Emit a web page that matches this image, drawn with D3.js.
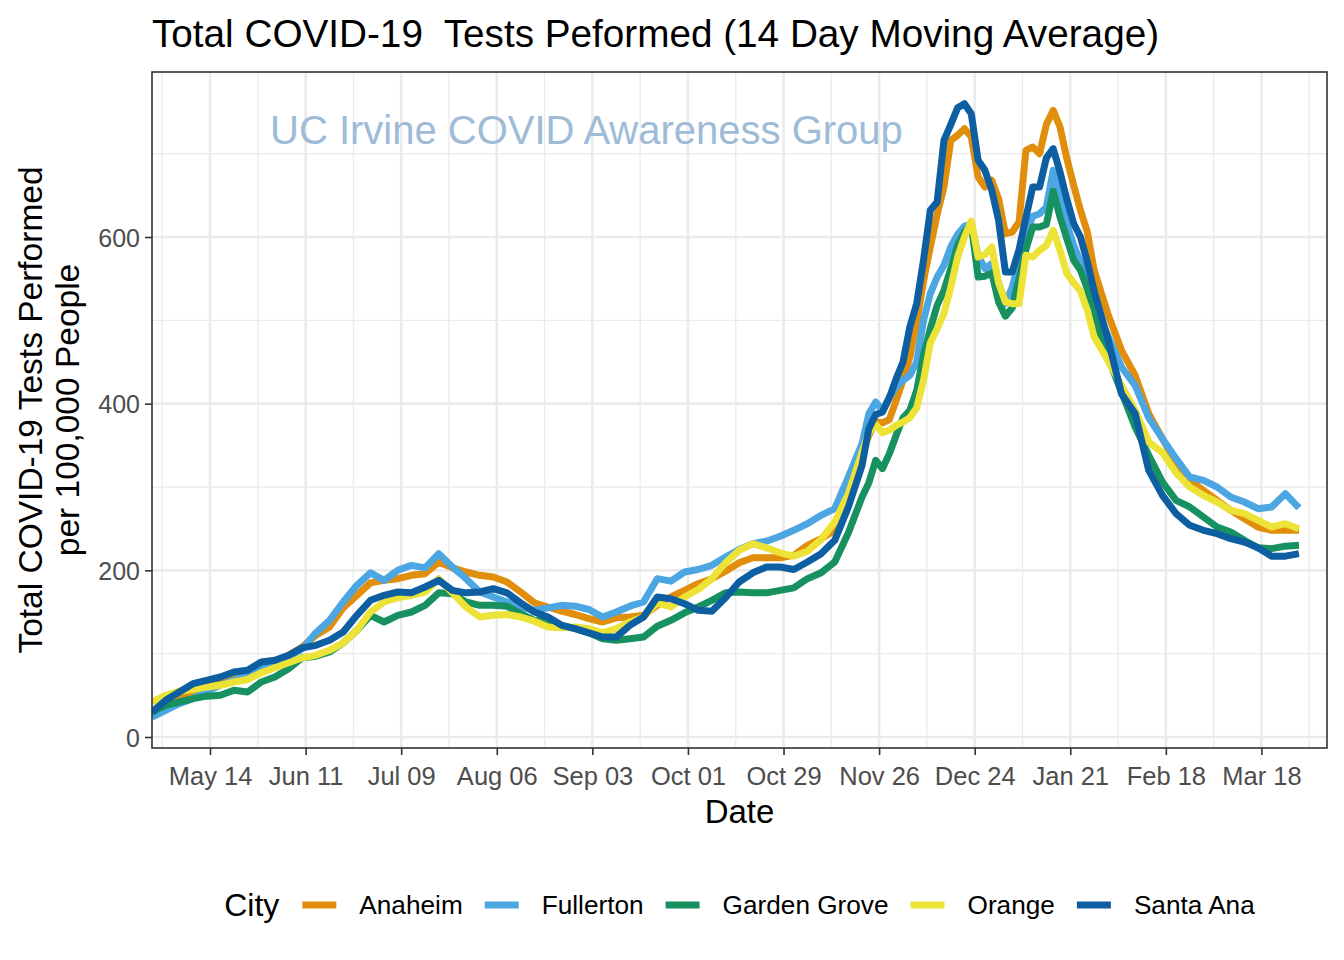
<!DOCTYPE html>
<html>
<head>
<meta charset="utf-8">
<script src="https://cdn.jsdelivr.net/npm/d3@7"></script>
<style>
  html, body { margin: 0; padding: 0; background: #fff; }
  svg { display: block; }
  text { font-family: "Liberation Sans", Arial, Helvetica, sans-serif; }
</style>
</head>
<body>
<svg id="chart" width="1344" height="960"></svg>
<script>
// ---------------- DATA ----------------
const dates = [
  "2020-04-27","2020-05-01","2020-05-05","2020-05-09","2020-05-13","2020-05-17","2020-05-21","2020-05-25","2020-05-29","2020-06-02",
  "2020-06-06","2020-06-10","2020-06-14","2020-06-18","2020-06-22","2020-06-26","2020-06-30","2020-07-04","2020-07-08","2020-07-12",
  "2020-07-16","2020-07-20","2020-07-24","2020-07-28","2020-08-01","2020-08-05","2020-08-09","2020-08-13","2020-08-17","2020-08-21",
  "2020-08-25","2020-08-29","2020-09-02","2020-09-06","2020-09-10","2020-09-14","2020-09-18","2020-09-22","2020-09-26","2020-09-30",
  "2020-10-04","2020-10-08","2020-10-12","2020-10-16","2020-10-20","2020-10-24","2020-10-28","2020-11-01","2020-11-05","2020-11-09",
  "2020-11-13","2020-11-17","2020-11-21",
  "2020-11-23","2020-11-25","2020-11-27","2020-11-29","2020-12-01","2020-12-03","2020-12-05","2020-12-07","2020-12-09","2020-12-11",
  "2020-12-13","2020-12-15","2020-12-17","2020-12-19","2020-12-21","2020-12-23","2020-12-25","2020-12-27","2020-12-29","2020-12-31",
  "2021-01-02","2021-01-04","2021-01-06","2021-01-08","2021-01-10","2021-01-12","2021-01-14","2021-01-16","2021-01-18","2021-01-20",
  "2021-01-22","2021-01-24","2021-01-26","2021-01-28",
  "2021-02-01","2021-02-05","2021-02-09","2021-02-13","2021-02-17","2021-02-21","2021-02-25","2021-03-01","2021-03-05","2021-03-09",
  "2021-03-13","2021-03-17","2021-03-21","2021-03-25","2021-03-29"
];

const cities = ["Anaheim", "Fullerton", "Garden Grove", "Orange", "Santa Ana"];

const anaheim = [
  30,40,48,55,60,65,70,76,84,90,98,108,122,132,155,170,185,188,190,
  194,196,210,203,198,194,192,186,174,161,156,151,147,142,138,143,144,146,158,
  168,176,184,190,199,209,215,215,215,218,230,238,248,292,342,
  362,378,377,381,404,428,456,497,547,588,627,660,716,722,730,720,672,660,668,646,
  604,606,618,704,708,700,735,752,732,694,662,632,606,560,
  508,464,434,388,358,328,308,296,284,272,262,252,248,248,248
];
const fullerton = [
  24,32,40,46,55,62,68,74,82,88,96,106,125,140,162,182,197,188,200,
  206,203,220,204,190,174,168,162,156,152,155,158,157,153,144,150,157,162,190,
  187,198,201,206,216,225,232,235,241,248,256,266,274,312,352,
  388,402,392,408,420,428,434,450,500,532,552,566,588,603,613,615,578,562,568,545,
  520,540,570,603,625,628,636,680,648,615,590,570,545,516,
  482,444,422,383,358,334,312,308,300,288,282,274,276,292,275
];
const gardenGrove = [
  30,38,42,46,49,50,56,54,66,72,82,95,97,102,113,128,146,138,146,
  150,158,173,172,162,158,158,157,148,140,139,134,130,125,118,116,118,120,133,
  140,149,156,164,173,174,173,173,176,179,190,197,210,245,288,
  305,332,322,340,362,383,392,416,458,490,518,536,562,590,606,615,552,553,557,522,
  505,515,550,585,612,612,615,655,624,598,572,560,538,504,
  456,414,372,338,306,284,276,264,252,246,236,227,226,229,230
];
const orange = [
  42,50,55,57,60,62,66,69,77,83,89,95,98,104,113,128,150,162,167,
  170,174,190,173,156,144,146,147,144,139,132,131,132,130,125,130,138,144,161,
  156,168,177,190,209,224,232,227,221,217,223,237,258,292,342,
  365,375,365,368,374,378,383,395,428,473,490,508,540,576,600,619,576,579,588,545,
  522,520,520,578,576,584,590,608,584,556,545,535,512,480,
  452,422,392,354,341,317,300,290,282,272,268,260,252,256,250
];
const santaAna = [
  30,44,54,64,68,72,78,80,90,92,98,107,110,116,126,146,164,170,174,
  173,180,188,176,173,174,178,173,161,150,144,134,130,125,120,120,134,144,168,
  166,160,152,151,167,186,197,204,204,201,210,220,236,276,326,
  370,387,390,407,430,450,492,520,572,632,642,716,735,755,760,748,692,680,656,620,
  558,558,585,623,660,660,695,706,678,645,616,600,570,535,
  478,412,388,320,290,268,254,248,244,238,234,227,217,217,220
];

const seriesValues = [anaheim, fullerton, gardenGrove, orange, santaAna];
const colors = ["#E08E0B", "#4BA6E2", "#16915F", "#EDE236", "#0D5FA2"];

const xTickLabels = ["May 14","Jun 11","Jul 09","Aug 06","Sep 03","Oct 01","Oct 29","Nov 26","Dec 24","Jan 21","Feb 18","Mar 18"];
const xTickDates = ["2020-05-14","2020-06-11","2020-07-09","2020-08-06","2020-09-03","2020-10-01","2020-10-29","2020-11-26","2020-12-24","2021-01-21","2021-02-18","2021-03-18"];
const xMinorDates = ["2020-04-30","2020-05-28","2020-06-25","2020-07-23","2020-08-20","2020-09-17","2020-10-15","2020-11-12","2020-12-10","2021-01-07","2021-02-04","2021-03-04","2021-04-01"];
const yTicks = [0, 200, 400, 600];
const yMinor = [100, 300, 500, 700];

const titleText = "Total COVID-19  Tests Peformed (14 Day Moving Average)";
const watermark = "UC Irvine COVID Awareness Group";
const xTitle = "Date";
const yTitle = ["Total COVID-19 Tests Performed", "per 100,000 People"];
const legendTitle = "City";

// ---------------- LAYOUT ----------------
const parse = d3.utcParse("%Y-%m-%d");
const panel = { left: 152, right: 1327, top: 72, bottom: 748 };

const svg = d3.select("#chart");

const x = d3.scaleUtc()
  .domain([parse("2020-04-27"), new Date(parse("2021-04-06").getTime() + 5 * 3600 * 1000)])
  .range([panel.left, panel.right]);
const y = d3.scaleLinear().domain([-13.2, 798]).range([panel.bottom, panel.top]);

// gridlines
const grid = svg.append("g");
grid.selectAll(".xminor").data(xMinorDates).join("line")
  .attr("x1", d => x(parse(d))).attr("x2", d => x(parse(d)))
  .attr("y1", panel.top).attr("y2", panel.bottom)
  .attr("stroke", "#EBEBEB").attr("stroke-width", 1.3);
grid.selectAll(".yminor").data(yMinor).join("line")
  .attr("x1", panel.left).attr("x2", panel.right)
  .attr("y1", d => y(d)).attr("y2", d => y(d))
  .attr("stroke", "#EBEBEB").attr("stroke-width", 1.3);
grid.selectAll(".xmajor").data(xTickDates).join("line")
  .attr("x1", d => x(parse(d))).attr("x2", d => x(parse(d)))
  .attr("y1", panel.top).attr("y2", panel.bottom)
  .attr("stroke", "#EBEBEB").attr("stroke-width", 2.6);
grid.selectAll(".ymajor").data(yTicks).join("line")
  .attr("x1", panel.left).attr("x2", panel.right)
  .attr("y1", d => y(d)).attr("y2", d => y(d))
  .attr("stroke", "#EBEBEB").attr("stroke-width", 2.6);

// watermark
svg.append("text")
  .attr("x", 270).attr("y", 144)
  .attr("font-size", 40)
  .attr("fill", "#9EBBD7")
  .text(watermark);

// clip
svg.append("clipPath").attr("id", "clip")
  .append("rect")
  .attr("x", panel.left).attr("y", panel.top)
  .attr("width", panel.right - panel.left).attr("height", panel.bottom - panel.top);

const line = d3.line()
  .x((d, i) => x(parse(dates[i])))
  .y(d => y(d))
  .curve(d3.curveLinear);

const linesG = svg.append("g").attr("clip-path", "url(#clip)");
seriesValues.forEach((vals, k) => {
  linesG.append("path")
    .datum(vals)
    .attr("d", line)
    .attr("fill", "none")
    .attr("stroke", colors[k])
    .attr("stroke-width", 7)
    .attr("stroke-linejoin", "round")
    .attr("stroke-linecap", "butt");
});

// panel border
svg.append("rect")
  .attr("x", panel.left).attr("y", panel.top)
  .attr("width", panel.right - panel.left).attr("height", panel.bottom - panel.top)
  .attr("fill", "none").attr("stroke", "#333333").attr("stroke-width", 1.6);

// x axis
const xAxis = d3.axisBottom(x)
  .tickValues(xTickDates.map(parse))
  .tickFormat((d, i) => xTickLabels[i])
  .tickSize(7).tickSizeOuter(0).tickPadding(6);
const gx = svg.append("g").attr("transform", `translate(0,${panel.bottom})`).call(xAxis);
gx.select(".domain").remove();
gx.selectAll(".tick line").attr("stroke", "#333333").attr("stroke-width", 1.6);
gx.selectAll(".tick text")
  .attr("font-size", 25.5).attr("fill", "#4D4D4D")
  .attr("font-family", "Liberation Sans, Arial, sans-serif")
  .attr("dy", null).attr("y", 37);

// y axis
const yAxis = d3.axisLeft(y)
  .tickValues(yTicks)
  .tickSize(7).tickSizeOuter(0).tickPadding(5);
const gy = svg.append("g").attr("transform", `translate(${panel.left},0)`).call(yAxis);
gy.select(".domain").remove();
gy.selectAll(".tick line").attr("stroke", "#333333").attr("stroke-width", 1.6);
gy.selectAll(".tick text")
  .attr("font-size", 25).attr("fill", "#4D4D4D")
  .attr("font-family", "Liberation Sans, Arial, sans-serif")
  .attr("dy", "0.36em");

// titles
svg.append("text")
  .attr("x", 152).attr("y", 47)
  .attr("font-size", 38.7).attr("fill", "#000")
  .style("white-space", "pre")
  .text(titleText);

svg.append("text")
  .attr("x", (panel.left + panel.right) / 2).attr("y", 823)
  .attr("text-anchor", "middle")
  .attr("font-size", 33).attr("fill", "#000")
  .text(xTitle);

const yMid = (panel.top + panel.bottom) / 2;
svg.append("text")
  .attr("transform", `translate(42,${yMid}) rotate(-90)`)
  .attr("text-anchor", "middle")
  .attr("font-size", 33.5).attr("fill", "#000")
  .text(yTitle[0]);
svg.append("text")
  .attr("transform", `translate(79,${yMid}) rotate(-90)`)
  .attr("text-anchor", "middle")
  .attr("font-size", 33.5).attr("fill", "#000")
  .text(yTitle[1]);

// legend
const legend = svg.append("g");
const legY = 905;
const lt = legend.append("text")
  .attr("x", 0).attr("y", legY + 11)
  .attr("font-size", 32).attr("fill", "#000")
  .text(legendTitle);
let cx = lt.node().getComputedTextLength() + 23;
cities.forEach((c, k) => {
  legend.append("line")
    .attr("x1", cx).attr("x2", cx + 34)
    .attr("y1", legY).attr("y2", legY)
    .attr("stroke", colors[k]).attr("stroke-width", 7);
  const t = legend.append("text")
    .attr("x", cx + 57).attr("y", legY + 9)
    .attr("font-size", 26.2).attr("fill", "#000")
    .text(c);
  cx = cx + 57 + t.node().getComputedTextLength() + 22;
});
const legW = cx - 22;
legend.attr("transform", `translate(${(panel.left + panel.right) / 2 - legW / 2},0)`);
</script>
</body>
</html>
